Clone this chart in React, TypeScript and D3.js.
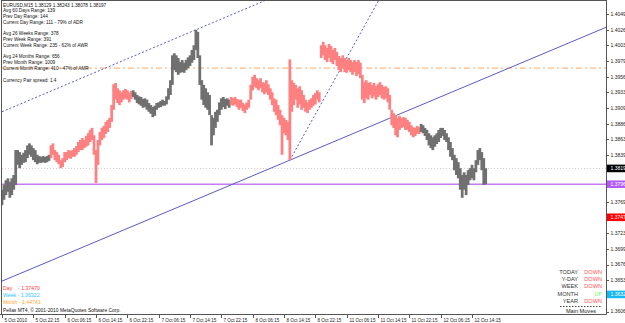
import React from 'react';
import * as d3 from 'd3';

// ---------- DATA ----------
const symbolHeader = 'EURUSD,M15  1.38129 1.38243 1.38078 1.38197';
const infoLines = [
  'Avg 60 Days Range: 139',
  'Prev Day Range: 144',
  'Current Day Range: 111 - 79% of ADR',
  '',
  'Avg 26 Weeks Range: 378',
  'Prev Week Range: 391',
  'Current Week Range: 235 - 62% of AWR',
  '',
  'Avg 24 Months Range: 656',
  'Prev Month Range: 1009',
  'Current Month Range: 410 - 47% of AMR',
  '',
  'Currency Pair spread: 1.4',
];

// 30-minute bars (high / low)
const highs = [
  1.3788,1.3795,1.3802,1.3805,1.3800,1.3805,1.3810,1.3847,1.3847,1.3844,
  1.3840,1.3843,1.3847,1.3854,1.3857,1.3854,1.3850,1.3847,1.3840,1.3838,
  1.3837,1.3838,1.3837,1.3838,1.3840,1.3854,1.3857,1.3847,1.3844,1.3840,
  1.3832,1.3835,1.3844,1.3844,1.3847,1.3846,1.3847,1.3850,1.3853,1.3859,
  1.3862,1.3865,1.3862,1.3868,1.3872,1.3877,1.3880,1.3869,1.3847,1.3862,
  1.3874,1.3880,1.3883,1.3889,1.3892,1.3895,1.3914,1.3945,1.3947,1.3939,
  1.3936,1.3933,1.3936,1.3938,1.3936,1.3933,1.3935,1.3936,1.3933,1.3929,
  1.3927,1.3926,1.3923,1.3924,1.3922,1.3917,1.3914,1.3911,1.3913,1.3917,
  1.3918,1.3920,1.3922,1.3920,1.3927,1.3939,1.3951,1.3988,1.3991,1.3988,
  1.3984,1.3978,1.3981,1.3977,1.3981,1.3985,1.3988,1.3996,1.4003,1.4026,
  1.4023,1.3988,1.3951,1.3944,1.3939,1.3933,1.3929,1.3899,1.3895,1.3904,
  1.3907,1.3918,1.3924,1.3926,1.3923,1.3924,1.3922,1.3926,1.3924,1.3926,
  1.3923,1.3922,1.3922,1.3917,1.3915,1.3918,1.3922,1.3944,1.3956,1.3959,
  1.3954,1.3951,1.3954,1.3948,1.3947,1.3951,1.3945,1.3939,1.3933,1.3924,
  1.3922,1.3914,1.3907,1.3899,1.3895,1.3892,1.3889,1.3982,1.3951,1.3947,
  1.3944,1.3939,1.3942,1.3936,1.3929,1.3922,1.3918,1.3922,1.3924,1.3929,
  1.3932,1.3936,1.3933,1.4003,1.4008,1.4003,1.3999,1.4005,1.4002,1.3996,
  1.3999,1.3993,1.3987,1.3984,1.3988,1.3984,1.3981,1.3984,1.3981,1.3978,
  1.3981,1.3978,1.3981,1.3977,1.3959,1.3948,1.3951,1.3947,1.3948,1.3944,
  1.3947,1.3942,1.3945,1.3948,1.3944,1.3941,1.3942,1.3939,1.3929,1.3907,
  1.3902,1.3899,1.3895,1.3898,1.3895,1.3896,1.3895,1.3892,1.3889,1.3884,
  1.3881,1.3880,1.3883,1.3881,1.3886,1.3884,1.3880,1.3877,1.3872,1.3869,
  1.3866,1.3869,1.3872,1.3877,1.3880,1.3880,1.3877,1.3872,1.3866,1.3859,
  1.3850,1.3840,1.3835,1.3829,1.3820,1.3810,1.3814,1.3810,1.3817,1.3820,
  1.3825,1.3820,1.3832,1.3847,1.3850,1.3844,1.3835,1.3820,
];
const lows = [
  1.3765,1.3773,1.3780,1.3785,1.3776,1.3780,1.3788,1.3795,1.3825,1.3820,
  1.3825,1.3828,1.3829,1.3835,1.3840,1.3837,1.3832,1.3829,1.3826,1.3828,
  1.3828,1.3829,1.3828,1.3829,1.3831,1.3835,1.3840,1.3832,1.3829,1.3826,
  1.3820,1.3822,1.3829,1.3832,1.3835,1.3834,1.3837,1.3837,1.3840,1.3844,
  1.3847,1.3847,1.3850,1.3852,1.3854,1.3859,1.3862,1.3840,1.3798,1.3825,
  1.3854,1.3862,1.3865,1.3871,1.3874,1.3880,1.3889,1.3907,1.3922,1.3917,
  1.3914,1.3918,1.3922,1.3924,1.3922,1.3918,1.3923,1.3926,1.3922,1.3917,
  1.3915,1.3913,1.3910,1.3911,1.3907,1.3904,1.3901,1.3896,1.3898,1.3907,
  1.3910,1.3911,1.3913,1.3913,1.3915,1.3922,1.3929,1.3944,1.3966,1.3963,
  1.3959,1.3962,1.3963,1.3962,1.3966,1.3969,1.3972,1.3977,1.3981,1.3996,
  1.3984,1.3944,1.3922,1.3914,1.3910,1.3907,1.3899,1.3854,1.3869,1.3880,
  1.3889,1.3899,1.3907,1.3911,1.3908,1.3913,1.3910,1.3914,1.3913,1.3915,
  1.3911,1.3907,1.3910,1.3905,1.3902,1.3907,1.3910,1.3922,1.3936,1.3941,
  1.3939,1.3936,1.3939,1.3933,1.3930,1.3933,1.3929,1.3922,1.3914,1.3904,
  1.3899,1.3892,1.3884,1.3840,1.3872,1.3869,1.3862,1.3832,1.3904,1.3914,
  1.3922,1.3910,1.3915,1.3907,1.3910,1.3904,1.3902,1.3907,1.3910,1.3913,
  1.3915,1.3922,1.3918,1.3984,1.3988,1.3981,1.3978,1.3984,1.3978,1.3975,
  1.3981,1.3972,1.3966,1.3963,1.3969,1.3963,1.3962,1.3966,1.3963,1.3959,
  1.3963,1.3957,1.3960,1.3954,1.3922,1.3917,1.3924,1.3922,1.3929,1.3924,
  1.3927,1.3922,1.3926,1.3929,1.3924,1.3922,1.3924,1.3918,1.3907,1.3884,
  1.3880,1.3869,1.3866,1.3877,1.3880,1.3881,1.3877,1.3877,1.3874,1.3869,
  1.3866,1.3868,1.3871,1.3871,1.3874,1.3872,1.3868,1.3862,1.3854,1.3850,
  1.3847,1.3852,1.3856,1.3859,1.3865,1.3868,1.3862,1.3859,1.3847,1.3837,
  1.3832,1.3817,1.3810,1.3805,1.3788,1.3776,1.3788,1.3780,1.3795,1.3802,
  1.3805,1.3802,1.3814,1.3825,1.3832,1.3817,1.3795,1.3796,
];
// bar index ranges where the indicator is in "down" state (pink bars)
const downRuns = [[25, 66], [117, 213]];

const xTickLabels = [
  '5 Oct 2010', '5 Oct 22:15', '6 Oct 06:15', '6 Oct 14:15', '6 Oct 22:15',
  '7 Oct 06:15', '7 Oct 14:15', '7 Oct 22:15', '8 Oct 06:15', '8 Oct 14:15',
  '8 Oct 22:15', '11 Oct 06:15', '11 Oct 14:15', '11 Oct 22:15', '12 Oct 06:15',
  '12 Oct 14:15',
];
const barsPerTick = 16;

const yTickLabels = [
  '1.40495', '1.40260', '1.40030', '1.39795', '1.39560', '1.39330', '1.39095',
  '1.38860', '1.38630', '1.38395', '1.38165', '1.37930', '1.37695', '1.37465',
  '1.37235', '1.36995', '1.36765', '1.36530', '1.36300', '1.36065',
];

const lastPrice = 1.38197;
const purpleLevel = 1.37962;
const orangeLevel = 1.3969;
const dayLevel = 1.3747;
const weekLevel = 1.36322;
const monthLevel = 1.44741;

const trendSolid = [[0, 1.3652], [147, 1.3832]];
const trendChannel = [[0, 1.3904], [99, 1.4026]];
const trendSteep = [[147, 1.3832], [184, 1.4026]];

const movesLabels = ['TODAY', 'Y-DAY', 'WEEK', 'MONTH', 'YEAR'];
const movesValues = ['DOWN', 'DOWN', 'DOWN', 'UP', 'DOWN'];

const copyright = 'Pellas MT4, \u00a9 2001-2010 MetaQuotes Software Corp.';

// ---------- STYLE ----------
const W = 625, H = 323;
const L = 2, R = 606, T = 1, B = 314;
const FONT = 'Liberation Sans, Arial, sans-serif';
const GRAY = '#707070';
const PINK = '#ff8080';
const TREND = '#5a5ac8';
const AXIS = '#555555';

export default function App() {
  const x = d3.scaleLinear().domain([0, barsPerTick]).range([2, 33.333]);
  const y = d3.scaleLinear().domain([1.36065, 1.40495]).range([311.7, 14]);
  const bw = x(1) - x(0);
  const iEnd = x.invert(R);

  const isDown = (i: number) => downRuns.some(([a, b]) => i >= a && i <= b);

  const trendLine = (pts: number[][]) => {
    const [[i1, p1], [i2, p2]] = pts;
    const slope = (p2 - p1) / (i2 - i1);
    const pe = p1 + slope * (iEnd - i1);
    return { x1: x(i1), y1: y(p1), x2: x(iEnd), y2: y(pe) };
  };
  const ts = trendLine(trendSolid);
  const tc = trendLine(trendChannel);
  const tp = trendLine(trendSteep);

  const boxes = [
    { v: lastPrice, bg: '#000000', fg: '#ffffff', label: lastPrice.toFixed(5) },
    { v: purpleLevel, bg: '#b25cf5', fg: '#ffffff', label: purpleLevel.toFixed(5) },
    { v: dayLevel, bg: '#ff0000', fg: '#ffffff', label: dayLevel.toFixed(5) },
    { v: weekLevel, bg: '#19b8f5', fg: '#ffffff', label: weekLevel.toFixed(5) },
  ];

  return (
    <svg width={W} height={H} style={{ position: 'absolute', left: 0, top: 0, background: '#fff' }}
      fontFamily={FONT}>
      <defs>
        <clipPath id="plot"><rect x={L} y={T} width={R - L} height={B - T} /></clipPath>
      </defs>
      <rect x={0} y={0} width={W} height={H} fill="#fff" />

      <g clipPath="url(#plot)">
        <line x1={L} x2={R} y1={y(orangeLevel)} y2={y(orangeLevel)} stroke="#f7a86a" strokeWidth={1}
          strokeDasharray="6,3,2,3" />
        <line x1={L} x2={R} y1={y(lastPrice)} y2={y(lastPrice)} stroke="#dcc6c6" strokeWidth={1}
          strokeDasharray="1,2" />
        <line x1={L} x2={R} y1={y(purpleLevel)} y2={y(purpleLevel)} stroke="#c77cf7" strokeWidth={1.6} />

        <line {...ts} stroke={TREND} strokeWidth={1} />
        <line {...tc} stroke={TREND} strokeWidth={1} strokeDasharray="2,2" />
        <line {...tp} stroke={TREND} strokeWidth={1} strokeDasharray="2,2" />

        {highs.map((h, i) => (
          <rect key={i} x={x(i) - bw / 2 - 0.4} y={y(h)} width={bw + 0.8}
            height={Math.max(1, y(lows[i]) - y(h))} fill={isDown(i) ? PINK : GRAY} />
        ))}
      </g>

      {/* frame */}
      <line x1={1.5} x2={1.5} y1={0} y2={B} stroke={AXIS} />
      <line x1={1.5} x2={R} y1={0.5} y2={0.5} stroke={AXIS} />
      <line x1={R + 0.5} x2={R + 0.5} y1={0} y2={B + 0.5} stroke={AXIS} />
      <line x1={0} x2={R + 0.5} y1={B + 0.5} y2={B + 0.5} stroke={AXIS} />

      {yTickLabels.map((t) => {
        const yy = y(+t);
        return (
          <g key={t}>
            <line x1={R} x2={R + 3} y1={Math.round(yy) + 0.5} y2={Math.round(yy) + 0.5} stroke={AXIS} />
            <text x={R + 4.5} y={yy} dy="0.35em" fontSize={5} fill="#222">{t}</text>
          </g>
        );
      })}
      {boxes.map((b) => (
        <g key={b.label}>
          <rect x={R + 1} y={y(b.v) - 3.8} width={W - R} height={7.6} fill={b.bg} />
          <text x={R + 4.5} y={y(b.v)} dy="0.35em" fontSize={5} fill={b.fg}>{b.label}</text>
        </g>
      ))}

      {xTickLabels.map((t, k) => {
        const xx = Math.round(x(k * barsPerTick)) + 0.5;
        return (
          <g key={t}>
            <line x1={xx} x2={xx} y1={B} y2={B + 4} stroke={AXIS} />
            <text x={xx + 2} y={321.5} fontSize={4.6} fill="#222">{t}</text>
          </g>
        );
      })}

      <g fontSize={4.7} fill="#111">
        <text x={3} y={6.6}>{symbolHeader}</text>
        {infoLines.map((l, k) => l ? (
          <text key={k} x={3} y={12.4 + k * 5.76}>{l}</text>
        ) : null)}
      </g>

      <g fontSize={5.2}>
        <text x={3} y={289.5} fill="#ff3b3b" xmlSpace="preserve" style={{ whiteSpace: 'pre' }}>{`Day    - ${dayLevel.toFixed(5)}`}</text>
        <text x={3} y={296.5} fill="#34c3ff">{`Week - ${weekLevel.toFixed(5)}`}</text>
        <text x={3} y={303.5} fill="#ffa733">{`Month - ${monthLevel.toFixed(5)}`}</text>
      </g>
      <text x={3} y={311.5} fontSize={4.9} fill="#111">{copyright}</text>

      <g fontSize={5.6}>
        {movesLabels.map((m, k) => (
          <g key={m}>
            <text x={578} y={273.8 + k * 7.3} textAnchor="end" fill="#333">{m}</text>
            <text x={602} y={273.8 + k * 7.3} textAnchor="end"
              fill={movesValues[k] === 'UP' ? '#6cf56c' : '#ff5555'}>{movesValues[k]}</text>
          </g>
        ))}
        <line x1={560} x2={602} y1={306.5} y2={306.5} stroke="#444" strokeDasharray="1.5,1.5" />
        <text x={581} y={312.5} textAnchor="middle" fill="#222">Main Moves</text>
      </g>
    </svg>
  );
}
